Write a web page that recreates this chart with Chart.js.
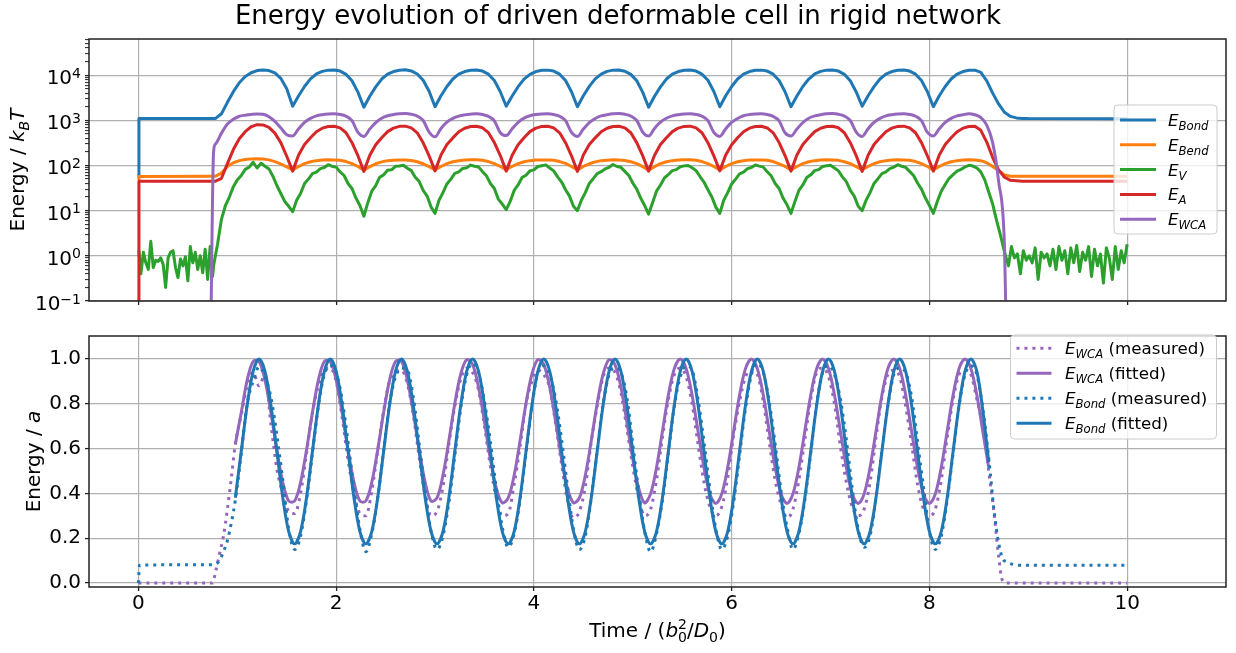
<!DOCTYPE html>
<html>
<head>
<meta charset="utf-8">
<script src="https://cdn.jsdelivr.net/npm/chart.js@4.4.1/dist/chart.umd.min.js"></script>
<style>
  body { margin: 0; background: #fff; }
  #wrap { position: relative; width: 1236px; height: 653px; }
  #wrap canvas { position: absolute; left: 0; }
</style>
</head>
<body>
<div id="wrap">
  <canvas id="energy-top" width="1236" height="320" style="top:0"></canvas>
  <canvas id="energy-bottom" width="1236" height="333" style="top:320px"></canvas>
</div>
<script>
  // ---- ticks ----
  const xTicks = [0, 2, 4, 6, 8, 10];
  const topTicks = [0.1, 1, 10, 100, 1000, 10000];
  const topTickExp = ['\u22121', '0', '1', '2', '3', '4'];
  const botTicks = [0, 0.2, 0.4, 0.6, 0.8, 1.0];

  // ---- top panel: time grid shared by the smooth curves ----
  const tTop = [
    0, 0.005, 0.73, 0.76,
    0.78, 0.84, 0.90, 0.96, 1.02, 1.08, 1.14, 1.20, 1.26, 1.32, 1.38, 1.44, 1.50,
    1.56, 1.62, 1.68, 1.74, 1.80, 1.86, 1.92, 1.98, 2.04, 2.10, 2.16, 2.22,
    2.28, 2.34, 2.40, 2.46, 2.52, 2.58, 2.64, 2.70, 2.76, 2.82, 2.88, 2.94,
    3.00, 3.06, 3.12, 3.18, 3.24, 3.30, 3.36, 3.42, 3.48, 3.54, 3.60, 3.66,
    3.72, 3.78, 3.84, 3.90, 3.96, 4.02, 4.08, 4.14, 4.20, 4.26, 4.32, 4.38,
    4.44, 4.50, 4.56, 4.62, 4.68, 4.74, 4.80, 4.86, 4.92, 4.98, 5.04, 5.10,
    5.16, 5.22, 5.28, 5.34, 5.40, 5.46, 5.52, 5.58, 5.64, 5.70, 5.76, 5.82,
    5.88, 5.94, 6.00, 6.06, 6.12, 6.18, 6.24, 6.30, 6.36, 6.42, 6.48, 6.54,
    6.60, 6.66, 6.72, 6.78, 6.84, 6.90, 6.96, 7.02, 7.08, 7.14, 7.20, 7.26,
    7.32, 7.38, 7.44, 7.50, 7.56, 7.62, 7.68, 7.74, 7.80, 7.86, 7.92, 7.98,
    8.04, 8.10, 8.16, 8.22, 8.28, 8.34, 8.40, 8.46, 8.52, 8.58, 8.64, 8.70, 8.76,
    8.78, 8.82, 8.88, 8.94, 9.00, 10.0
  ];

  const eBond = [
    55, 1100, 1100, 1100,
    1100, 1400, 2500, 4300, 6800, 9300, 11300, 12600, 13000, 12600, 11200, 8500, 5000,
    2050, 3500, 5600, 8300, 10600, 12100, 12900, 13000, 12300, 10400, 7500, 4200,
    1950, 3400, 5500, 8200, 10500, 12000, 12800, 13100, 12400, 10600, 7700, 4400,
    2000, 3500, 5600, 8200, 10500, 12000, 12800, 13000, 12300, 10500, 7600, 4300,
    2050, 3450, 5550, 8150, 10400, 12000, 12800, 12900, 12300, 10500, 7600, 4300,
    2000, 3500, 5650, 8250, 10500, 12100, 12900, 13000, 12200, 10400, 7500, 4200,
    1950, 3400, 5500, 8200, 10500, 12000, 12800, 13000, 12300, 10500, 7700, 4350,
    2000, 3500, 5600, 8200, 10500, 12000, 12800, 12900, 12300, 10500, 7600, 4300,
    2000, 3450, 5600, 8200, 10600, 12100, 12900, 13000, 12300, 10400, 7500, 4250,
    2050, 3500, 5550, 8200, 10500, 12000, 12800, 13000, 12300, 10500, 7600, 4300,
    2000, 3500, 5600, 8200, 10500, 12000, 12800, 12900, 11500, 7500, 4000, 2300, 1500,
    null, 1220, 1130, 1100, 1090, 1080
  ];

  const eBend = [
    48, 57, 58, 58,
    58, 68, 95, 115, 128, 135, 140, 141, 139, 133, 122, 108, 93,
    80, 95, 110, 121, 128, 132, 134, 133, 130, 122, 110, 95,
    79, 94, 109, 120, 128, 131, 133, 133, 129, 121, 109, 94,
    80, 95, 110, 121, 127, 132, 134, 134, 130, 122, 110, 95,
    81, 96, 110, 121, 128, 132, 133, 133, 130, 122, 111, 95,
    80, 95, 109, 120, 128, 131, 134, 133, 129, 121, 110, 94,
    79, 94, 110, 121, 128, 132, 134, 134, 130, 122, 110, 95,
    80, 95, 110, 121, 127, 132, 133, 133, 130, 122, 109, 95,
    80, 95, 110, 121, 128, 132, 134, 133, 130, 121, 110, 94,
    81, 95, 110, 121, 128, 132, 134, 133, 130, 122, 110, 95,
    80, 95, 110, 121, 128, 132, 134, 133, 128, 115, 95, 77, 62,
    null, 58, 58, 58, 58, 58
  ];

  const eA = [
    0.01, 45, 45, 45,
    45, 52, 110, 225, 390, 560, 720, 800, 790, 700, 520, 320, 160,
    75, 170, 290, 410, 560, 670, 730, 740, 680, 530, 320, 165,
    74, 168, 288, 412, 562, 672, 735, 742, 678, 528, 318, 163,
    76, 171, 292, 408, 558, 668, 728, 738, 682, 532, 322, 166,
    75, 169, 289, 411, 561, 671, 732, 741, 679, 529, 320, 164,
    74, 170, 291, 409, 559, 669, 729, 739, 681, 531, 321, 165,
    75, 168, 290, 412, 562, 673, 734, 743, 680, 530, 319, 163,
    76, 171, 288, 410, 560, 670, 730, 740, 678, 528, 322, 166,
    75, 170, 292, 411, 561, 668, 731, 739, 682, 531, 320, 165,
    74, 169, 290, 409, 559, 671, 733, 742, 680, 530, 321, 164,
    75, 170, 290, 410, 560, 670, 730, 740, 600, 330, 150, 80, 55,
    null, 47, 46, 45, 45, 45
  ];

  const eWCA = [
    null, null, 0.01, 200,
    300, 520, 830, 1050, 1230, 1300, 1350, 1380, 1360, 1200, 950, 680, 480,
    450, 650, 900, 1100, 1250, 1330, 1380, 1400, 1350, 1230, 980, 540,
    440, 640, 890, 1110, 1260, 1340, 1390, 1410, 1360, 1240, 990, 550,
    430, 660, 910, 1100, 1240, 1320, 1370, 1400, 1350, 1220, 970, 530,
    460, 650, 900, 1120, 1260, 1340, 1380, 1390, 1340, 1230, 980, 540,
    440, 640, 890, 1100, 1250, 1330, 1390, 1410, 1360, 1240, 990, 550,
    450, 660, 910, 1110, 1250, 1330, 1380, 1400, 1350, 1230, 980, 540,
    440, 650, 900, 1100, 1260, 1340, 1380, 1400, 1340, 1220, 970, 530,
    450, 640, 890, 1110, 1250, 1330, 1390, 1410, 1360, 1240, 990, 550,
    440, 650, 900, 1100, 1250, 1330, 1380, 1400, 1350, 1230, 980, 540,
    450, 650, 900, 1100, 1250, 1330, 1400, 1330, 1150, 780, 320, 45, 1.5,
    0.01, null, null, null, null, null
  ];

  // ---- top panel: noisy volume energy on its own time grid ----
  const tV = [
    0.005, 0.025, 0.05, 0.075, 0.1, 0.125, 0.15, 0.175, 0.2, 0.225, 0.25, 0.275, 0.3, 0.325, 0.35,
    0.375, 0.4, 0.425, 0.45, 0.475, 0.5, 0.525, 0.55, 0.575, 0.6, 0.625, 0.65, 0.675, 0.7, 0.725, 0.75,
    0.76, 0.80, 0.84, 0.88, 0.92, 0.96, 1.00, 1.04, 1.08, 1.12, 1.16, 1.20, 1.24, 1.28, 1.32, 1.36, 1.40, 1.44, 1.48, 1.52,
    1.56, 1.60, 1.64, 1.68, 1.72, 1.76, 1.80, 1.84, 1.88, 1.92, 1.96, 2.00, 2.04, 2.08, 2.12, 2.16, 2.20, 2.24,
    2.28, 2.32, 2.36, 2.40, 2.44, 2.48, 2.52, 2.56, 2.60, 2.64, 2.68, 2.72, 2.76, 2.80, 2.84, 2.88, 2.92, 2.96,
    3.00, 3.04, 3.08, 3.12, 3.16, 3.20, 3.24, 3.28, 3.32, 3.36, 3.40, 3.44, 3.48, 3.52, 3.56, 3.60, 3.64, 3.68,
    3.72, 3.76, 3.80, 3.84, 3.88, 3.92, 3.96, 4.00, 4.04, 4.08, 4.12, 4.16, 4.20, 4.24, 4.28, 4.32, 4.36, 4.40,
    4.44, 4.48, 4.52, 4.56, 4.60, 4.64, 4.68, 4.72, 4.76, 4.80, 4.84, 4.88, 4.92, 4.96, 5.00, 5.04, 5.08, 5.12,
    5.16, 5.20, 5.24, 5.28, 5.32, 5.36, 5.40, 5.44, 5.48, 5.52, 5.56, 5.60, 5.64, 5.68, 5.72, 5.76, 5.80, 5.84,
    5.88, 5.92, 5.96, 6.00, 6.04, 6.08, 6.12, 6.16, 6.20, 6.24, 6.28, 6.32, 6.36, 6.40, 6.44, 6.48, 6.52, 6.56,
    6.60, 6.64, 6.68, 6.72, 6.76, 6.80, 6.84, 6.88, 6.92, 6.96, 7.00, 7.04, 7.08, 7.12, 7.16, 7.20, 7.24, 7.28,
    7.32, 7.36, 7.40, 7.44, 7.48, 7.52, 7.56, 7.60, 7.64, 7.68, 7.72, 7.76, 7.80, 7.84, 7.88, 7.92, 7.96, 8.00,
    8.04, 8.08, 8.12, 8.16, 8.20, 8.24, 8.28, 8.32, 8.36, 8.40, 8.44, 8.48, 8.52, 8.56, 8.60, 8.64, 8.68, 8.72, 8.76,
    8.80, 8.83, 8.86, 8.89, 8.92, 8.95, 8.98, 9.01, 9.04, 9.07, 9.10, 9.13, 9.16, 9.19, 9.22, 9.25, 9.28, 9.31,
    9.34, 9.37, 9.40, 9.43, 9.46, 9.49, 9.52, 9.55, 9.58, 9.61, 9.64, 9.67, 9.70, 9.73, 9.76, 9.79, 9.82, 9.85,
    9.88, 9.91, 9.94, 9.97, 10.00
  ];

  const eV = [
    1.3, 0.4, 1.2, 0.7, 0.5, 2.1, 0.55, 0.8, 0.75, 0.9, 0.65, 0.2, 0.9, 1.2, 1.3,
    0.55, 0.33, 0.85, 0.6, 0.95, 0.28, 1.6, 0.7, 1.2, 0.5, 1.0, 0.42, 1.4, 0.3, 1.6, 0.35,
    0.6, 1.8, 6.5, 13, 20, 34, 48, 60, 82, 92, 118, 88, 112, 96, 84, 58, 36, 24, 16, 12.5,
    9.5, 17, 24, 40, 50, 66, 71, 85, 90, 104, 95, 92, 72, 60, 40, 31, 19, 13,
    7.5, 15, 27, 36, 55, 62, 78, 80, 96, 97, 101, 87, 77, 55, 44, 28, 21, 12,
    8.7, 17, 25, 39, 50, 67, 72, 86, 89, 102, 96, 93, 73, 59, 40, 31, 18, 14,
    10.5, 16, 28, 37, 54, 61, 76, 80, 95, 99, 103, 88, 76, 56, 43, 29, 21, 12.5,
    10, 17, 25, 40, 51, 66, 73, 84, 91, 105, 95, 91, 74, 60, 41, 30, 19, 13,
    8.4, 15, 27, 37, 53, 63, 77, 81, 94, 98, 100, 89, 77, 57, 43, 29, 20, 12,
    8.7, 17, 25, 39, 50, 65, 71, 85, 90, 103, 97, 92, 73, 59, 40, 31, 19, 13.5,
    8.7, 16, 28, 37, 54, 62, 77, 81, 95, 99, 101, 88, 76, 56, 44, 28, 21, 12.5,
    10, 17, 25, 40, 51, 66, 72, 85, 92, 104, 96, 91, 74, 60, 41, 30, 19, 13,
    8.7, 16, 27, 38, 52, 63, 75, 82, 93, 101, 97, 88, 72, 48, 26, 14, 6, 2.8, 1.2,
    0.6, 1.6, 0.9, 1.1, 0.4, 1.3, 0.8, 1.0, 0.7, 1.5, 0.3, 1.2, 0.9, 1.1, 0.6, 1.4, 0.5, 1.6,
    0.8, 1.3, 0.4, 1.5, 0.7, 1.7, 0.45, 1.2, 0.8, 1.6, 0.35, 1.4, 0.6, 1.1, 0.25, 1.5, 0.9, 0.3,
    1.6, 0.5, 1.3, 0.7, 1.8
  ];

  // ---- bottom panel: normalised energies ----
  const tFit = [
    0.98, 1.04, 1.10, 1.16, 1.22, 1.28, 1.34, 1.40, 1.46, 1.52,
    1.58, 1.64, 1.70, 1.76, 1.82, 1.88, 1.94, 2.00, 2.06, 2.12, 2.18, 2.24,
    2.30, 2.36, 2.42, 2.48, 2.54, 2.60, 2.66, 2.72, 2.78, 2.84, 2.90, 2.96,
    3.02, 3.08, 3.14, 3.20, 3.26, 3.32, 3.38, 3.44, 3.50, 3.56, 3.62, 3.68,
    3.74, 3.80, 3.86, 3.92, 3.98, 4.04, 4.10, 4.16, 4.22, 4.28, 4.34, 4.40,
    4.46, 4.52, 4.58, 4.64, 4.70, 4.76, 4.82, 4.88, 4.94, 5.00, 5.06, 5.12,
    5.18, 5.24, 5.30, 5.36, 5.42, 5.48, 5.54, 5.60, 5.66, 5.72, 5.78, 5.84,
    5.90, 5.96, 6.02, 6.08, 6.14, 6.20, 6.26, 6.32, 6.38, 6.44, 6.50, 6.56,
    6.62, 6.68, 6.74, 6.80, 6.86, 6.92, 6.98, 7.04, 7.10, 7.16, 7.22, 7.28,
    7.34, 7.40, 7.46, 7.52, 7.58, 7.64, 7.70, 7.76, 7.82, 7.88, 7.94, 8.00,
    8.06, 8.12, 8.18, 8.24, 8.30, 8.36, 8.42, 8.48, 8.54, 8.60
  ];
  const tMeasPre = [0, 0.01, 0.75, 0.78, 0.82, 0.86, 0.90, 0.94];
  const tMeasPost = [8.66, 8.70, 8.74, 8.78, 8.82, 8.86, 8.90, 10.0];
  const tMeas = [...tMeasPre, ...tFit, ...tMeasPost];

  const bondFit = [
    0.381, 0.588, 0.794, 0.945, 1.000, 0.945, 0.794, 0.588, 0.381, 0.230,
    0.175, 0.230, 0.381, 0.588, 0.794, 0.945, 1.000, 0.945, 0.794, 0.588, 0.381, 0.230,
    0.175, 0.230, 0.381, 0.588, 0.794, 0.945, 1.000, 0.945, 0.794, 0.588, 0.381, 0.230,
    0.175, 0.230, 0.381, 0.588, 0.794, 0.945, 1.000, 0.945, 0.794, 0.588, 0.381, 0.230,
    0.175, 0.230, 0.381, 0.588, 0.794, 0.945, 1.000, 0.945, 0.794, 0.588, 0.381, 0.230,
    0.175, 0.230, 0.381, 0.588, 0.794, 0.945, 1.000, 0.945, 0.794, 0.588, 0.381, 0.230,
    0.175, 0.230, 0.381, 0.588, 0.794, 0.945, 1.000, 0.945, 0.794, 0.588, 0.381, 0.230,
    0.175, 0.230, 0.381, 0.588, 0.794, 0.945, 1.000, 0.945, 0.794, 0.588, 0.381, 0.230,
    0.175, 0.230, 0.381, 0.588, 0.794, 0.945, 1.000, 0.945, 0.794, 0.588, 0.381, 0.230,
    0.175, 0.230, 0.381, 0.588, 0.794, 0.945, 1.000, 0.945, 0.794, 0.588, 0.381, 0.230,
    0.175, 0.230, 0.381, 0.588, 0.794, 0.945, 1.000, 0.945, 0.770, 0.540
  ];

  const wcaFit = [
    0.620, 0.761, 0.906, 0.989, 0.989, 0.906, 0.761, 0.594, 0.449, 0.366,
    0.366, 0.449, 0.594, 0.761, 0.906, 0.989, 0.989, 0.906, 0.761, 0.594, 0.449, 0.366,
    0.366, 0.449, 0.594, 0.761, 0.906, 0.989, 0.989, 0.906, 0.761, 0.594, 0.449, 0.366,
    0.380, 0.481, 0.635, 0.801, 0.933, 0.997, 0.975, 0.874, 0.720, 0.554, 0.422, 0.358,
    0.380, 0.481, 0.635, 0.801, 0.933, 0.997, 0.975, 0.874, 0.720, 0.554, 0.422, 0.358,
    0.380, 0.481, 0.635, 0.801, 0.933, 0.997, 0.975, 0.874, 0.720, 0.554, 0.422, 0.358,
    0.398, 0.516, 0.678, 0.839, 0.957, 1.000, 0.957, 0.839, 0.678, 0.516, 0.398, 0.355,
    0.398, 0.516, 0.678, 0.839, 0.957, 1.000, 0.957, 0.839, 0.678, 0.516, 0.398, 0.355,
    0.398, 0.516, 0.678, 0.839, 0.957, 1.000, 0.957, 0.839, 0.678, 0.516, 0.398, 0.355,
    0.398, 0.516, 0.678, 0.839, 0.957, 1.000, 0.957, 0.839, 0.678, 0.516, 0.398, 0.355,
    0.398, 0.516, 0.678, 0.839, 0.957, 1.000, 0.957, 0.839, 0.678, 0.516
  ];

  const bondMeas = [
    0, 0.08, 0.082, 0.085, 0.10, 0.14, 0.19, 0.27,
    0.37, 0.58, 0.80, 0.90, 0.965, 0.92, 0.83, 0.66, 0.46, 0.24,
    0.15, 0.21, 0.37, 0.58, 0.79, 0.93, 0.97, 0.94, 0.82, 0.63, 0.42, 0.24,
    0.14, 0.22, 0.38, 0.59, 0.80, 0.92, 0.96, 0.95, 0.83, 0.62, 0.41, 0.23,
    0.15, 0.21, 0.36, 0.57, 0.78, 0.93, 0.98, 0.94, 0.81, 0.63, 0.42, 0.25,
    0.16, 0.22, 0.37, 0.58, 0.79, 0.94, 0.97, 0.93, 0.82, 0.64, 0.43, 0.24,
    0.15, 0.21, 0.38, 0.59, 0.80, 0.93, 0.96, 0.94, 0.83, 0.62, 0.41, 0.23,
    0.14, 0.22, 0.37, 0.58, 0.79, 0.92, 0.97, 0.95, 0.82, 0.63, 0.42, 0.24,
    0.15, 0.21, 0.36, 0.57, 0.78, 0.93, 0.98, 0.94, 0.81, 0.62, 0.41, 0.25,
    0.15, 0.22, 0.37, 0.58, 0.80, 0.94, 0.97, 0.93, 0.82, 0.64, 0.42, 0.24,
    0.16, 0.21, 0.38, 0.59, 0.79, 0.93, 0.96, 0.94, 0.83, 0.63, 0.43, 0.23,
    0.15, 0.21, 0.37, 0.58, 0.79, 0.93, 0.97, 0.93, 0.78, 0.56,
    0.30, 0.18, 0.11, 0.095, 0.087, 0.082, 0.08, 0.08
  ];

  const wcaMeas = [
    0, 0, 0, 0.05, 0.13, 0.21, 0.33, 0.47,
    0.62, 0.75, 0.88, 0.94, 0.88, 0.93, 0.71, 0.51, 0.40, 0.32,
    0.31, 0.40, 0.58, 0.76, 0.88, 0.95, 0.96, 0.90, 0.74, 0.55, 0.40, 0.31,
    0.30, 0.41, 0.59, 0.77, 0.90, 0.94, 0.95, 0.89, 0.75, 0.56, 0.39, 0.30,
    0.32, 0.43, 0.62, 0.79, 0.91, 0.96, 0.94, 0.86, 0.70, 0.52, 0.38, 0.30,
    0.31, 0.44, 0.61, 0.80, 0.90, 0.95, 0.93, 0.87, 0.71, 0.53, 0.37, 0.29,
    0.32, 0.43, 0.63, 0.79, 0.92, 0.96, 0.94, 0.85, 0.69, 0.52, 0.38, 0.30,
    0.33, 0.46, 0.65, 0.82, 0.93, 0.96, 0.92, 0.80, 0.62, 0.45, 0.34, 0.30,
    0.34, 0.47, 0.66, 0.81, 0.92, 0.95, 0.93, 0.81, 0.63, 0.46, 0.35, 0.29,
    0.33, 0.46, 0.64, 0.82, 0.94, 0.96, 0.92, 0.80, 0.61, 0.45, 0.34, 0.30,
    0.33, 0.45, 0.65, 0.83, 0.93, 0.95, 0.92, 0.79, 0.62, 0.44, 0.33, 0.30,
    0.33, 0.46, 0.65, 0.82, 0.93, 0.95, 0.93, 0.82, 0.70, 0.50,
    0.29, 0.12, 0.01, 0, 0, 0, 0, 0
  ];

  const C = { blue: '#1f77b4', orange: '#ff7f0e', green: '#2ca02c', red: '#d62728', purple: '#9467bd' };
  const FONT = "'DejaVu Sans', sans-serif";
  const DOTS = [3, 4.95];

  Chart.defaults.font.family = FONT;
  Chart.defaults.color = '#000';

  function pts(t, v) {
    const out = [];
    t.forEach((x, i) => { if (v[i] != null) out.push({ x: x, y: v[i] }); });
    return out;
  }

  // text with italic / subscript / superscript pieces: [text, style]
  // style: i = italic, b = subscript, p = superscript, z = no advance
  function drawRich(ctx, parts, x, y, size, align, supRaise) {
    const raise = supRaise || 0.42;
    const segs = parts.map(([s, st]) => {
      const small = /[bp]/.test(st);
      const font = (st.includes('i') ? 'italic ' : '') + (small ? size * 0.7 : size) + 'px ' + FONT;
      ctx.font = font;
      const w = ctx.measureText(s).width;
      const dy = st.includes('b') ? size * 0.24 : (st.includes('p') ? -size * raise : 0);
      return { s, font, dy, adv: st.includes('z') ? 0 : w };
    });
    const total = segs.reduce((a, g) => a + g.adv, 0);
    let cx = align === 'center' ? x - total / 2 : (align === 'right' ? x - total : x);
    ctx.textAlign = 'left';
    ctx.textBaseline = 'alphabetic';
    segs.forEach(g => { ctx.font = g.font; ctx.fillText(g.s, cx, y + g.dy); cx += g.adv; });
  }

  const deco = {
    id: 'deco',
    afterDatasetsDraw(chart) {
      const { ctx, chartArea: a } = chart;
      ctx.save();
      ctx.strokeStyle = '#222';
      ctx.lineWidth = 1.5;
      ctx.strokeRect(a.left, a.top, a.right - a.left, a.bottom - a.top);
      ctx.restore();
    },
    afterDraw(chart, args, o) {
      const { ctx, chartArea: a } = chart;
      ctx.save();
      ctx.fillStyle = '#000';
      if (o.title) {
        ctx.font = '26px ' + FONT;
        ctx.textAlign = 'center';
        ctx.textBaseline = 'alphabetic';
        ctx.fillText(o.title, 618, 24);
      }
      if (o.logLabels) {
        const ys = chart.scales.y;
        topTicks.forEach((v, i) => {
          const py = ys.getPixelForValue(v);
          drawRich(ctx, [['10', ''], [topTickExp[i], 'p']], a.left - 8, py + 9, 20, 'right', 0.32);
        });
      }
      if (o.yTitle) {
        ctx.save();
        ctx.translate(o.yTitle.x, (a.top + a.bottom) / 2);
        ctx.rotate(-Math.PI / 2);
        drawRich(ctx, o.yTitle.parts, 0, 0, 20, 'center');
        ctx.restore();
      }
      if (o.xTitle) drawRich(ctx, o.xTitle.parts, (a.left + a.right) / 2, o.xTitle.y, 20, 'center');
      if (o.legend) {
        const L = o.legend;
        ctx.fillStyle = 'rgba(255,255,255,0.8)';
        ctx.strokeStyle = '#cccccc';
        ctx.lineWidth = 1;
        ctx.beginPath();
        ctx.roundRect(L.x, L.y, L.w, L.h, 4);
        ctx.fill();
        ctx.stroke();
        chart.data.datasets.forEach((ds, i) => {
          const y = L.y0 + i * L.dy;
          ctx.strokeStyle = ds.borderColor;
          ctx.lineWidth = 3;
          ctx.lineCap = 'butt';
          ctx.setLineDash(ds.borderDash || []);
          ctx.beginPath();
          ctx.moveTo(L.x0, y);
          ctx.lineTo(L.x1, y);
          ctx.stroke();
          ctx.setLineDash([]);
          ctx.fillStyle = '#000';
          drawRich(ctx, ds.rich, L.tx, y + 6, 16.7, 'left');
        });
      }
      ctx.restore();
    }
  };

  const xAxis = (height, showLabels) => ({
    type: 'linear', min: -0.5, max: 11,
    afterBuildTicks: s => { s.ticks = xTicks.map(v => ({ value: v })); },
    afterFit: s => { s.height = height; },
    ticks: { font: { size: 20 }, color: '#000', padding: 1, maxRotation: 0, autoSkip: false,
      callback: v => showLabels ? String(v) : '' },
    grid: { color: '#b0b0b0', lineWidth: 1.2, tickColor: '#222', tickLength: 4, tickWidth: 1.3 },
    border: { display: false }
  });

  // ---- top chart ----
  new Chart(document.getElementById('energy-top'), {
    type: 'line',
    data: {
      datasets: [
        { rich: [['E', 'i'], ['Bond', 'ib']], data: pts(tTop, eBond), borderColor: C.blue, order: 5 },
        { rich: [['E', 'i'], ['Bend', 'ib']], data: pts(tTop, eBend), borderColor: C.orange, order: 4 },
        { rich: [['E', 'i'], ['V', 'ib']], data: pts(tV, eV), borderColor: C.green, order: 3 },
        { rich: [['E', 'i'], ['A', 'ib']], data: pts(tTop, eA), borderColor: C.red, order: 2 },
        { rich: [['E', 'i'], ['WCA', 'ib']], data: pts(tTop, eWCA), borderColor: C.purple, order: 1,
          cubicInterpolationMode: 'monotone' }
      ]
    },
    options: {
      responsive: false, animation: false, devicePixelRatio: 1,
      layout: { padding: { left: 0, right: 10, top: 39, bottom: 0 }, autoPadding: false },
      datasets: { line: { clip: 0 } },
      elements: { point: { radius: 0 }, line: { borderWidth: 3, tension: 0, borderJoinStyle: 'round' } },
      plugins: {
        legend: { display: false }, tooltip: { enabled: false },
        deco: {
          title: 'Energy evolution of driven deformable cell in rigid network',
          logLabels: true,
          yTitle: { x: 24, parts: [['Energy / ', ''], ['k', 'i'], ['B', 'ib'], ['T', 'i']] },
          legend: { x: 1114, y: 105, w: 103, h: 129, x0: 1120, x1: 1156, tx: 1168, y0: 120, dy: 24.8 }
        }
      },
      scales: {
        x: xAxis(19, false),
        y: {
          type: 'logarithmic', min: 0.1, max: 63096,
          afterBuildTicks: s => {
            const list = [];
            topTicks.forEach(m => {
              list.push({ value: m, major: true });
              for (let k = 2; k <= 9; k++) if (m * k < 63096) list.push({ value: m * k, major: false });
            });
            s.ticks = list.sort((p, q) => p.value - q.value);
          },
          afterFit: s => { s.width = 89; },
          ticks: { font: { size: 20 }, autoSkip: false, callback: () => '' },
          grid: {
            color: c => (c.tick && c.tick.major) ? '#b0b0b0' : 'rgba(0,0,0,0)',
            lineWidth: 1.2, tickColor: '#222', tickLength: 4,
            tickWidth: c => (c.tick && c.tick.major) ? 1.3 : 1
          },
          border: { display: false }
        }
      }
    },
    plugins: [deco]
  });

  // ---- bottom chart ----
  new Chart(document.getElementById('energy-bottom'), {
    type: 'line',
    data: {
      datasets: [
        { rich: [['E', 'i'], ['WCA', 'ib'], [' (measured)', '']], data: pts(tMeas, wcaMeas),
          borderColor: C.purple, borderDash: DOTS, cubicInterpolationMode: 'monotone', order: 4 },
        { rich: [['E', 'i'], ['WCA', 'ib'], [' (fitted)', '']], data: pts(tFit, wcaFit),
          borderColor: C.purple, tension: 0.33, order: 3 },
        { rich: [['E', 'i'], ['Bond', 'ib'], [' (measured)', '']], data: pts(tMeas, bondMeas),
          borderColor: C.blue, borderDash: DOTS, cubicInterpolationMode: 'monotone', order: 2 },
        { rich: [['E', 'i'], ['Bond', 'ib'], [' (fitted)', '']], data: pts(tFit, bondFit),
          borderColor: C.blue, tension: 0.33, order: 1 }
      ]
    },
    options: {
      responsive: false, animation: false, devicePixelRatio: 1,
      layout: { padding: { left: 0, right: 10, top: 5, bottom: 0 }, autoPadding: false },
      datasets: { line: { clip: 0 } },
      elements: { point: { radius: 0 }, line: { borderWidth: 3, tension: 0, borderJoinStyle: 'round' } },
      plugins: {
        legend: { display: false }, tooltip: { enabled: false },
        deco: {
          yTitle: { x: 40, parts: [['Energy / ', ''], ['a', 'i']] },
          xTitle: { y: 317, parts: [['Time / (', ''], ['b', 'i'], ['2', 'pz'], ['0', 'b'], ['/', ''],
            ['D', 'i'], ['0', 'b'], [')', '']] },
          legend: { x: 1010.5, y: 15, w: 206, h: 104, x0: 1016.5, x1: 1051.5, tx: 1065, y0: 28.3, dy: 25 }
        }
      },
      scales: {
        x: xAxis(66, true),
        y: {
          type: 'linear', min: -0.0175, max: 1.1025,
          afterBuildTicks: s => { s.ticks = botTicks.map(v => ({ value: v })); },
          afterFit: s => { s.width = 89; },
          ticks: { font: { size: 20 }, color: '#000', padding: 4, callback: v => v.toFixed(1) },
          grid: { color: '#b0b0b0', lineWidth: 1.2, tickColor: '#222', tickLength: 4, tickWidth: 1.3 },
          border: { display: false }
        }
      }
    },
    plugins: [deco]
  });
</script>
</body>
</html>
